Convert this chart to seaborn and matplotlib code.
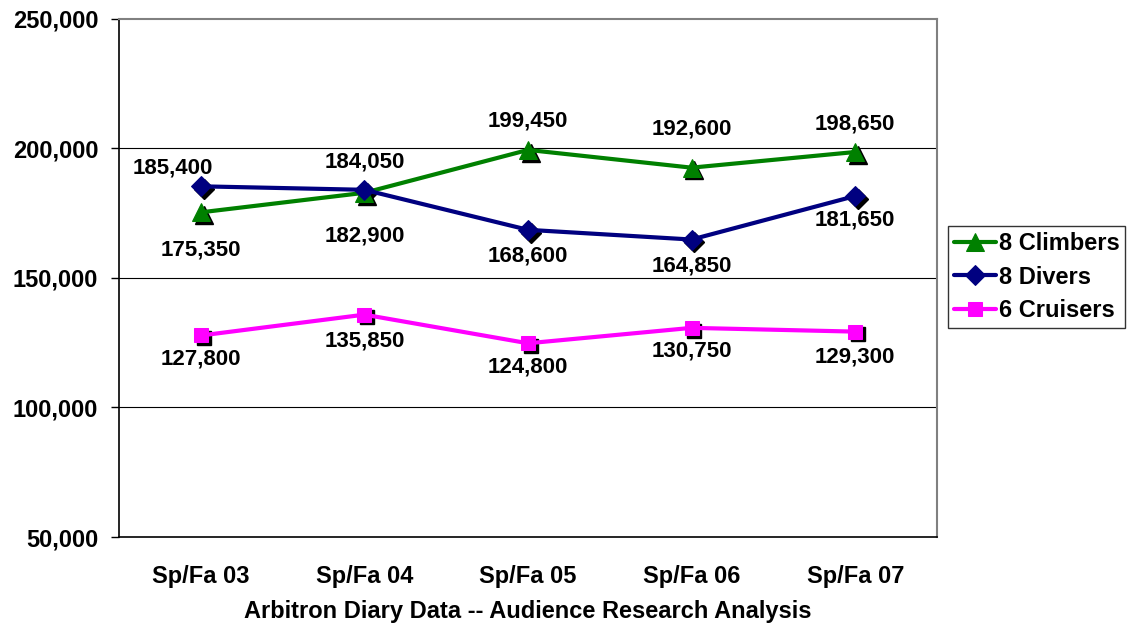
import matplotlib
matplotlib.use('Agg')
import matplotlib.pyplot as plt
import matplotlib.transforms as mtransforms
import pandas as pd
import seaborn as sns
import numpy as np

# data
periods = ['Sp/Fa 03', 'Sp/Fa 04', 'Sp/Fa 05', 'Sp/Fa 06', 'Sp/Fa 07']
climbers = [175350, 182900, 199450, 192600, 198650]
divers = [185400, 184050, 168600, 164850, 181650]
cruisers = [127800, 135850, 124800, 130750, 129300]

series_names = ['8 Climbers', '8 Divers', '6 Cruisers']
colors = {'8 Climbers': '#008000', '8 Divers': '#000080', '6 Cruisers': '#FF00FF'}
markers = {'8 Climbers': '^', '8 Divers': 'D', '6 Cruisers': 's'}
msizes = {'8 Climbers': 13, '8 Divers': 10, '6 Cruisers': 10}
# label offsets from the point, in points
label_dy = {'8 Climbers': [-27, -31, 21, 28, 20],
            '8 Divers': [13, 20, -19, -19, -17],
            '6 Cruisers': [-17, -19, -17, -17, -18]}
label_dx = {'8 Climbers': [0, 0, 0, 0, 0],
            '8 Divers': [-20, 0, 0, 0, 0],
            '6 Cruisers': [0, 0, 0, 0, 0]}

df = pd.DataFrame({'x': list(range(len(periods))) * 3,
                   'value': climbers + divers + cruisers,
                   'series': np.repeat(series_names, len(periods))})

sns.set_style('white')
plt.rcParams['font.family'] = ['Liberation Sans', 'DejaVu Sans']
plt.rcParams['font.weight'] = 'bold'
for k in ['text.color', 'axes.labelcolor', 'xtick.color', 'ytick.color']:
    plt.rcParams[k] = 'black'

fig = plt.figure(figsize=(11.33, 6.25), dpi=100)
ax = fig.add_axes([0.105, 0.1408, 0.722, 0.8288])

for y in [100000, 150000, 200000]:
    ax.axhline(y, color='black', lw=0.8, zorder=0)

shadow = mtransforms.offset_copy(ax.transData, fig=fig, x=2, y=-2, units='points')

for name in series_names:
    sub = df[df['series'] == name]
    ax.plot(sub['x'], sub['value'], linestyle='none', marker=markers[name],
            markersize=msizes[name], color='black', transform=shadow, zorder=2)
    sns.lineplot(data=sub, x='x', y='value', ax=ax, color=colors[name], lw=3,
                 marker=markers[name], markersize=msizes[name],
                 markeredgecolor=colors[name], label=name, zorder=3)
    for i, (xv, yv) in enumerate(zip(sub['x'], sub['value'])):
        ax.annotate(f'{yv:,}', (xv, yv), xytext=(label_dx[name][i], label_dy[name][i]),
                    textcoords='offset points', ha='center', va='center',
                    fontsize=16, fontweight='bold')

ax.set_ylim(50000, 250000)
ax.set_yticks(range(50000, 250001, 50000))
ax.set_yticklabels([f'{v:,}' for v in range(50000, 250001, 50000)], fontsize=17, fontweight='bold')
ax.set_xlim(-0.5, len(periods) - 0.5)
ax.set_xticks(range(len(periods)))
ax.set_xticklabels(periods, fontsize=17, fontweight='bold')
ax.set_xticks(np.arange(-0.5, len(periods), 1), minor=True)
ax.tick_params(axis='x', which='major', length=0, pad=20)
ax.tick_params(axis='x', which='minor', length=6, width=1, color='black', direction='out')
ax.tick_params(axis='y', length=6, width=1, color='black', direction='out', left=True, pad=9)
ax.set_xlabel('Arbitron Diary Data -- Audience Research Analysis', fontsize=17,
              fontweight='bold', labelpad=9)
ax.set_ylabel('')

for side in ['left', 'bottom']:
    ax.spines[side].set_color('black')
    ax.spines[side].set_linewidth(1.2)
for side in ['top', 'right']:
    ax.spines[side].set_color('#808080')
    ax.spines[side].set_linewidth(1.5)

leg = ax.legend(loc='upper left', bbox_to_anchor=(0.8367, 0.6384), bbox_transform=fig.transFigure,
                borderaxespad=0, frameon=True, fancybox=False, edgecolor='black',
                handlelength=1.8, handletextpad=0.1, borderpad=0.25, labelspacing=0.45,
                prop={'weight': 'bold', 'size': 17})
leg.get_frame().set_linewidth(1)

fig.savefig('out.png', dpi=100)
